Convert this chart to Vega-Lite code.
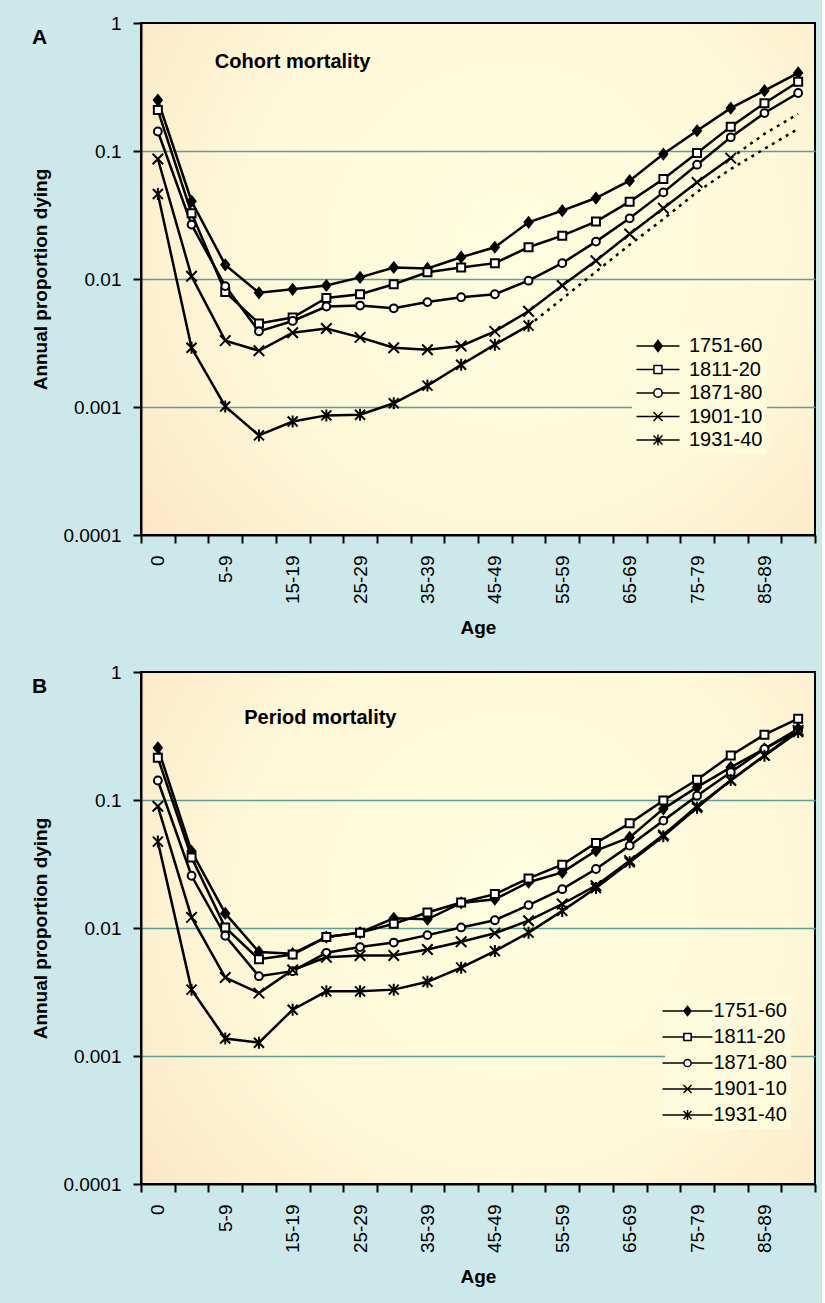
{
  "$schema": "https://vega.github.io/schema/vega-lite/v6.json",
  "background": "#cde8ea",
  "padding": {"left": 30, "top": 13, "right": 5, "bottom": 23},
  "spacing": 23,
  "config": {
    "font": "Liberation Sans",
    "view": {"stroke": "black", "strokeWidth": 2, "fill": {"gradient": "radial", "x1": 0.55, "y1": 0.45, "r1": 0, "x2": 0.55, "y2": 0.45, "r2": 0.75, "stops": [{"offset": 0, "color": "#fffde0"}, {"offset": 0.55, "color": "#fef8d8"}, {"offset": 1, "color": "#fbe3c4"}]}},
    "axis": {"domainColor": "black", "domainWidth": 2, "tickColor": "black", "tickWidth": 2, "tickSize": 8, "labelFontSize": 19, "labelColor": "black", "titleFontSize": 19, "titleFontWeight": "bold", "titleColor": "black"},
    "axisY": {"labelPadding": 12, "titlePadding": 12},
    "axisX": {"grid": false, "labelPadding": 12, "titlePadding": 15},
    "title": {"anchor": "start", "frame": "bounds", "fontSize": 21, "fontWeight": "bold", "color": "black", "baseline": "top", "offset": -34},
    "legend": {"orient": "none", "title": null, "padding": 4, "fillColor": "#fefbdc", "labelFontSize": 20, "labelColor": "black", "symbolSize": 400}
  },
  "datasets": {
    "cohort": [
      {"group": "1751-60", "age": "0", "rate": 0.25}, {"group": "1751-60", "age": "1-4", "rate": 0.0405}, {"group": "1751-60", "age": "5-9", "rate": 0.0129}, {"group": "1751-60", "age": "10-14", "rate": 0.0078}, {"group": "1751-60", "age": "15-19", "rate": 0.0083}, {"group": "1751-60", "age": "20-24", "rate": 0.0089}, {"group": "1751-60", "age": "25-29", "rate": 0.0103}, {"group": "1751-60", "age": "30-34", "rate": 0.0123}, {"group": "1751-60", "age": "35-39", "rate": 0.0121}, {"group": "1751-60", "age": "40-44", "rate": 0.0148}, {"group": "1751-60", "age": "45-49", "rate": 0.0177}, {"group": "1751-60", "age": "50-54", "rate": 0.0277}, {"group": "1751-60", "age": "55-59", "rate": 0.0342}, {"group": "1751-60", "age": "60-64", "rate": 0.0429}, {"group": "1751-60", "age": "65-69", "rate": 0.0586}, {"group": "1751-60", "age": "70-74", "rate": 0.0947}, {"group": "1751-60", "age": "75-79", "rate": 0.144}, {"group": "1751-60", "age": "80-84", "rate": 0.216}, {"group": "1751-60", "age": "85-89", "rate": 0.296}, {"group": "1751-60", "age": "90-94", "rate": 0.407},
      {"group": "1811-20", "age": "0", "rate": 0.209}, {"group": "1811-20", "age": "1-4", "rate": 0.0326}, {"group": "1811-20", "age": "5-9", "rate": 0.0079}, {"group": "1811-20", "age": "10-14", "rate": 0.0045}, {"group": "1811-20", "age": "15-19", "rate": 0.005}, {"group": "1811-20", "age": "20-24", "rate": 0.0071}, {"group": "1811-20", "age": "25-29", "rate": 0.0076}, {"group": "1811-20", "age": "30-34", "rate": 0.0091}, {"group": "1811-20", "age": "35-39", "rate": 0.0113}, {"group": "1811-20", "age": "40-44", "rate": 0.0123}, {"group": "1811-20", "age": "45-49", "rate": 0.0133}, {"group": "1811-20", "age": "50-54", "rate": 0.0177}, {"group": "1811-20", "age": "55-59", "rate": 0.0218}, {"group": "1811-20", "age": "60-64", "rate": 0.0281}, {"group": "1811-20", "age": "65-69", "rate": 0.0402}, {"group": "1811-20", "age": "70-74", "rate": 0.0604}, {"group": "1811-20", "age": "75-79", "rate": 0.0965}, {"group": "1811-20", "age": "80-84", "rate": 0.155}, {"group": "1811-20", "age": "85-89", "rate": 0.236}, {"group": "1811-20", "age": "90-94", "rate": 0.348},
      {"group": "1871-80", "age": "0", "rate": 0.142}, {"group": "1871-80", "age": "1-4", "rate": 0.0266}, {"group": "1871-80", "age": "5-9", "rate": 0.0088}, {"group": "1871-80", "age": "10-14", "rate": 0.0039}, {"group": "1871-80", "age": "15-19", "rate": 0.0047}, {"group": "1871-80", "age": "20-24", "rate": 0.0061}, {"group": "1871-80", "age": "25-29", "rate": 0.0062}, {"group": "1871-80", "age": "30-34", "rate": 0.0059}, {"group": "1871-80", "age": "35-39", "rate": 0.0066}, {"group": "1871-80", "age": "40-44", "rate": 0.0072}, {"group": "1871-80", "age": "45-49", "rate": 0.0076}, {"group": "1871-80", "age": "50-54", "rate": 0.0097}, {"group": "1871-80", "age": "55-59", "rate": 0.0133}, {"group": "1871-80", "age": "60-64", "rate": 0.0196}, {"group": "1871-80", "age": "65-69", "rate": 0.0298}, {"group": "1871-80", "age": "70-74", "rate": 0.0475}, {"group": "1871-80", "age": "75-79", "rate": 0.0782}, {"group": "1871-80", "age": "80-84", "rate": 0.128}, {"group": "1871-80", "age": "85-89", "rate": 0.198}, {"group": "1871-80", "age": "90-94", "rate": 0.284},
      {"group": "1901-10", "age": "0", "rate": 0.0866}, {"group": "1901-10", "age": "1-4", "rate": 0.0105}, {"group": "1901-10", "age": "5-9", "rate": 0.0033}, {"group": "1901-10", "age": "10-14", "rate": 0.00275}, {"group": "1901-10", "age": "15-19", "rate": 0.0038}, {"group": "1901-10", "age": "20-24", "rate": 0.0041}, {"group": "1901-10", "age": "25-29", "rate": 0.0035}, {"group": "1901-10", "age": "30-34", "rate": 0.0029}, {"group": "1901-10", "age": "35-39", "rate": 0.0028}, {"group": "1901-10", "age": "40-44", "rate": 0.003}, {"group": "1901-10", "age": "45-49", "rate": 0.0039}, {"group": "1901-10", "age": "50-54", "rate": 0.0056}, {"group": "1901-10", "age": "55-59", "rate": 0.0089}, {"group": "1901-10", "age": "60-64", "rate": 0.0139}, {"group": "1901-10", "age": "65-69", "rate": 0.0225}, {"group": "1901-10", "age": "70-74", "rate": 0.0357}, {"group": "1901-10", "age": "75-79", "rate": 0.0569}, {"group": "1901-10", "age": "80-84", "rate": 0.088},
      {"group": "1931-40", "age": "0", "rate": 0.0461}, {"group": "1931-40", "age": "1-4", "rate": 0.0029}, {"group": "1931-40", "age": "5-9", "rate": 0.00101}, {"group": "1931-40", "age": "10-14", "rate": 0.0006}, {"group": "1931-40", "age": "15-19", "rate": 0.00077}, {"group": "1931-40", "age": "20-24", "rate": 0.00086}, {"group": "1931-40", "age": "25-29", "rate": 0.00087}, {"group": "1931-40", "age": "30-34", "rate": 0.00107}, {"group": "1931-40", "age": "35-39", "rate": 0.00147}, {"group": "1931-40", "age": "40-44", "rate": 0.00214}, {"group": "1931-40", "age": "45-49", "rate": 0.00307}, {"group": "1931-40", "age": "50-54", "rate": 0.00432}
    ],
    "cohortProj": [
      {"group": "1901-10", "age": "80-84", "rate": 0.088}, {"group": "1901-10", "age": "85-89", "rate": 0.136}, {"group": "1901-10", "age": "90-94", "rate": 0.195},
      {"group": "1931-40", "age": "50-54", "rate": 0.00432}, {"group": "1931-40", "age": "55-59", "rate": 0.007}, {"group": "1931-40", "age": "60-64", "rate": 0.0114}, {"group": "1931-40", "age": "65-69", "rate": 0.0185}, {"group": "1931-40", "age": "70-74", "rate": 0.0294}, {"group": "1931-40", "age": "75-79", "rate": 0.0478}, {"group": "1931-40", "age": "80-84", "rate": 0.0723}, {"group": "1931-40", "age": "85-89", "rate": 0.104}, {"group": "1931-40", "age": "90-94", "rate": 0.149}
    ],
    "period": [
      {"group": "1751-60", "age": "0", "rate": 0.256}, {"group": "1751-60", "age": "1-4", "rate": 0.0397}, {"group": "1751-60", "age": "5-9", "rate": 0.013}, {"group": "1751-60", "age": "10-14", "rate": 0.0065}, {"group": "1751-60", "age": "15-19", "rate": 0.0063}, {"group": "1751-60", "age": "20-24", "rate": 0.0085}, {"group": "1751-60", "age": "25-29", "rate": 0.0092}, {"group": "1751-60", "age": "30-34", "rate": 0.0119}, {"group": "1751-60", "age": "35-39", "rate": 0.0117}, {"group": "1751-60", "age": "40-44", "rate": 0.0157}, {"group": "1751-60", "age": "45-49", "rate": 0.0168}, {"group": "1751-60", "age": "50-54", "rate": 0.0228}, {"group": "1751-60", "age": "55-59", "rate": 0.0272}, {"group": "1751-60", "age": "60-64", "rate": 0.0402}, {"group": "1751-60", "age": "65-69", "rate": 0.051}, {"group": "1751-60", "age": "70-74", "rate": 0.0853}, {"group": "1751-60", "age": "75-79", "rate": 0.126}, {"group": "1751-60", "age": "80-84", "rate": 0.18}, {"group": "1751-60", "age": "85-89", "rate": 0.251}, {"group": "1751-60", "age": "90-94", "rate": 0.36},
      {"group": "1811-20", "age": "0", "rate": 0.214}, {"group": "1811-20", "age": "1-4", "rate": 0.0356}, {"group": "1811-20", "age": "5-9", "rate": 0.0101}, {"group": "1811-20", "age": "10-14", "rate": 0.0057}, {"group": "1811-20", "age": "15-19", "rate": 0.0062}, {"group": "1811-20", "age": "20-24", "rate": 0.0085}, {"group": "1811-20", "age": "25-29", "rate": 0.0092}, {"group": "1811-20", "age": "30-34", "rate": 0.0108}, {"group": "1811-20", "age": "35-39", "rate": 0.0132}, {"group": "1811-20", "age": "40-44", "rate": 0.0158}, {"group": "1811-20", "age": "45-49", "rate": 0.0184}, {"group": "1811-20", "age": "50-54", "rate": 0.0244}, {"group": "1811-20", "age": "55-59", "rate": 0.0312}, {"group": "1811-20", "age": "60-64", "rate": 0.0462}, {"group": "1811-20", "age": "65-69", "rate": 0.0657}, {"group": "1811-20", "age": "70-74", "rate": 0.099}, {"group": "1811-20", "age": "75-79", "rate": 0.144}, {"group": "1811-20", "age": "80-84", "rate": 0.223}, {"group": "1811-20", "age": "85-89", "rate": 0.324}, {"group": "1811-20", "age": "90-94", "rate": 0.432},
      {"group": "1871-80", "age": "0", "rate": 0.142}, {"group": "1871-80", "age": "1-4", "rate": 0.0256}, {"group": "1871-80", "age": "5-9", "rate": 0.0087}, {"group": "1871-80", "age": "10-14", "rate": 0.0042}, {"group": "1871-80", "age": "15-19", "rate": 0.0046}, {"group": "1871-80", "age": "20-24", "rate": 0.0064}, {"group": "1871-80", "age": "25-29", "rate": 0.0071}, {"group": "1871-80", "age": "30-34", "rate": 0.0077}, {"group": "1871-80", "age": "35-39", "rate": 0.0088}, {"group": "1871-80", "age": "40-44", "rate": 0.0101}, {"group": "1871-80", "age": "45-49", "rate": 0.0115}, {"group": "1871-80", "age": "50-54", "rate": 0.0151}, {"group": "1871-80", "age": "55-59", "rate": 0.0201}, {"group": "1871-80", "age": "60-64", "rate": 0.0289}, {"group": "1871-80", "age": "65-69", "rate": 0.044}, {"group": "1871-80", "age": "70-74", "rate": 0.069}, {"group": "1871-80", "age": "75-79", "rate": 0.108}, {"group": "1871-80", "age": "80-84", "rate": 0.165}, {"group": "1871-80", "age": "85-89", "rate": 0.251}, {"group": "1871-80", "age": "90-94", "rate": 0.35},
      {"group": "1901-10", "age": "0", "rate": 0.0893}, {"group": "1901-10", "age": "1-4", "rate": 0.0121}, {"group": "1901-10", "age": "5-9", "rate": 0.0041}, {"group": "1901-10", "age": "10-14", "rate": 0.0031}, {"group": "1901-10", "age": "15-19", "rate": 0.0047}, {"group": "1901-10", "age": "20-24", "rate": 0.0059}, {"group": "1901-10", "age": "25-29", "rate": 0.0061}, {"group": "1901-10", "age": "30-34", "rate": 0.0061}, {"group": "1901-10", "age": "35-39", "rate": 0.0068}, {"group": "1901-10", "age": "40-44", "rate": 0.0078}, {"group": "1901-10", "age": "45-49", "rate": 0.0091}, {"group": "1901-10", "age": "50-54", "rate": 0.0114}, {"group": "1901-10", "age": "55-59", "rate": 0.0154}, {"group": "1901-10", "age": "60-64", "rate": 0.0214}, {"group": "1901-10", "age": "65-69", "rate": 0.0336}, {"group": "1901-10", "age": "70-74", "rate": 0.0533}, {"group": "1901-10", "age": "75-79", "rate": 0.0893}, {"group": "1901-10", "age": "80-84", "rate": 0.142}, {"group": "1901-10", "age": "85-89", "rate": 0.223}, {"group": "1901-10", "age": "90-94", "rate": 0.35},
      {"group": "1931-40", "age": "0", "rate": 0.0473}, {"group": "1931-40", "age": "1-4", "rate": 0.0033}, {"group": "1931-40", "age": "5-9", "rate": 0.00137}, {"group": "1931-40", "age": "10-14", "rate": 0.00127}, {"group": "1931-40", "age": "15-19", "rate": 0.0023}, {"group": "1931-40", "age": "20-24", "rate": 0.0032}, {"group": "1931-40", "age": "25-29", "rate": 0.0032}, {"group": "1931-40", "age": "30-34", "rate": 0.0033}, {"group": "1931-40", "age": "35-39", "rate": 0.0038}, {"group": "1931-40", "age": "40-44", "rate": 0.0049}, {"group": "1931-40", "age": "45-49", "rate": 0.0066}, {"group": "1931-40", "age": "50-54", "rate": 0.0092}, {"group": "1931-40", "age": "55-59", "rate": 0.0136}, {"group": "1931-40", "age": "60-64", "rate": 0.0205}, {"group": "1931-40", "age": "65-69", "rate": 0.0326}, {"group": "1931-40", "age": "70-74", "rate": 0.052}, {"group": "1931-40", "age": "75-79", "rate": 0.087}, {"group": "1931-40", "age": "80-84", "rate": 0.143}, {"group": "1931-40", "age": "85-89", "rate": 0.222}, {"group": "1931-40", "age": "90-94", "rate": 0.34}
    ]
  },
  "vconcat": [
    {
      "width": 674, "height": 512,
      "title": {"text": "A"},
      "layer": [
        {
          "data": {"name": "cohort"},
          "mark": {"type": "line", "color": "black", "strokeWidth": 2.5},
          "encoding": {
            "x": {"field": "age", "type": "ordinal", "title": "Age", "scale": {"type": "band", "paddingInner": 0, "paddingOuter": 0, "domain": ["0","1-4","5-9","10-14","15-19","20-24","25-29","30-34","35-39","40-44","45-49","50-54","55-59","60-64","65-69","70-74","75-79","80-84","85-89","90-94"]}, "axis": {"tickBand": "extent", "labelAngle": 270, "labelExpr": "indexof(['0','5-9','15-19','25-29','35-39','45-49','55-59','65-69','75-79','85-89'], datum.value) >= 0 ? datum.label : ''"}},
            "y": {"field": "rate", "type": "quantitative", "title": "Annual proportion dying", "scale": {"type": "log", "domain": [0.0001, 1], "nice": false}, "axis": {"values": [0.0001, 0.001, 0.01, 0.1, 1], "format": "~g", "grid": true, "gridWidth": 1.5, "gridColor": {"condition": {"test": "datum.value >= 0.5 || datum.value <= 0.0002", "value": "transparent"}, "value": "#5e9e94"}}},
            "detail": {"field": "group"}
          }
        },
        {
          "data": {"name": "cohortProj"},
          "mark": {"type": "line", "color": "black", "strokeWidth": 2.5, "strokeDash": [3, 5]},
          "encoding": {
            "x": {"field": "age", "type": "ordinal"},
            "y": {"field": "rate", "type": "quantitative"},
            "detail": {"field": "group"}
          }
        },
        {
          "data": {"name": "cohort"},
          "mark": {"type": "point", "filled": true, "stroke": "black", "strokeWidth": 2, "size": 100, "opacity": 1},
          "encoding": {
            "x": {"field": "age", "type": "ordinal"},
            "y": {"field": "rate", "type": "quantitative"},
            "shape": {"field": "group", "type": "nominal", "legend": null, "scale": {"domain": ["1931-40","1901-10","1871-80","1811-20","1751-60"], "range": ["M-1,-1L1,1M-1,1L1,-1M0,-1.2V1.2", "M-1.05,-1.05L1.05,1.05M-1.05,1.05L1.05,-1.05", "M-0.78,0A0.78,0.78,0,1,1,0.78,0A0.78,0.78,0,1,1,-0.78,0Z", "M-0.8,-0.8H0.8V0.8H-0.8Z", "M0,-1L0.8,0L0,1L-0.8,0Z"]}},
            "fill": {"field": "group", "type": "nominal", "scale": {"domain": ["1751-60","1811-20","1871-80","1901-10","1931-40"], "range": ["black", "white", "white", "white", "white"]},
              "legend": {"legendX": 491, "legendY": 308, "symbolOffset": 11, "labelOffset": 20, "rowPadding": 2.5,
                "symbolType": {"expr": "datum.value === '1751-60' ? 'M-2.15,0H2.15M0,-0.55L0.42,0L0,0.55L-0.42,0Z' : datum.value === '1811-20' ? 'M-2.15,0H-0.4M0.4,0H2.15M-0.4,-0.4H0.4V0.4H-0.4Z' : datum.value === '1871-80' ? 'M-2.15,0H-0.42M0.42,0H2.15M-0.42,0A0.42,0.42,0,1,1,0.42,0A0.42,0.42,0,1,1,-0.42,0Z' : datum.value === '1901-10' ? 'M-2.15,0H2.15M-0.45,-0.45L0.45,0.45M-0.45,0.45L0.45,-0.45' : 'M-2.15,0H2.15M-0.45,-0.45L0.45,0.45M-0.45,0.45L0.45,-0.45M0,-0.55V0.55'"},
                "encode": {"symbols": {"stroke": {"value": "black"}, "strokeWidth": {"value": 2}}}}}
          }
        },
        {
          "data": {"values": [{"age": "15-19", "rate": 0.5, "label": "Cohort mortality"}]},
          "mark": {"type": "text", "fontWeight": "bold", "fontSize": 20, "color": "black"},
          "encoding": {
            "x": {"field": "age", "type": "ordinal"},
            "y": {"field": "rate", "type": "quantitative"},
            "text": {"field": "label"}
          }
        }
      ]
    },
    {
      "width": 674, "height": 512,
      "title": {"text": "B"},
      "layer": [
        {
          "data": {"name": "period"},
          "mark": {"type": "line", "color": "black", "strokeWidth": 2.5},
          "encoding": {
            "x": {"field": "age", "type": "ordinal", "title": "Age", "scale": {"type": "band", "paddingInner": 0, "paddingOuter": 0, "domain": ["0","1-4","5-9","10-14","15-19","20-24","25-29","30-34","35-39","40-44","45-49","50-54","55-59","60-64","65-69","70-74","75-79","80-84","85-89","90-94"]}, "axis": {"tickBand": "extent", "labelAngle": 270, "labelExpr": "indexof(['0','5-9','15-19','25-29','35-39','45-49','55-59','65-69','75-79','85-89'], datum.value) >= 0 ? datum.label : ''"}},
            "y": {"field": "rate", "type": "quantitative", "title": "Annual proportion dying", "scale": {"type": "log", "domain": [0.0001, 1], "nice": false}, "axis": {"values": [0.0001, 0.001, 0.01, 0.1, 1], "format": "~g", "grid": true, "gridWidth": 1.5, "gridColor": {"condition": {"test": "datum.value >= 0.5 || datum.value <= 0.0002", "value": "transparent"}, "value": "#5e9e94"}}},
            "detail": {"field": "group"}
          }
        },
        {
          "data": {"name": "period"},
          "mark": {"type": "point", "filled": true, "stroke": "black", "strokeWidth": 2, "size": 100, "opacity": 1},
          "encoding": {
            "x": {"field": "age", "type": "ordinal"},
            "y": {"field": "rate", "type": "quantitative"},
            "shape": {"field": "group", "type": "nominal", "legend": null, "scale": {"domain": ["1931-40","1901-10","1871-80","1811-20","1751-60"], "range": ["M-1,-1L1,1M-1,1L1,-1M0,-1.2V1.2", "M-1.05,-1.05L1.05,1.05M-1.05,1.05L1.05,-1.05", "M-0.78,0A0.78,0.78,0,1,1,0.78,0A0.78,0.78,0,1,1,-0.78,0Z", "M-0.8,-0.8H0.8V0.8H-0.8Z", "M0,-1L0.8,0L0,1L-0.8,0Z"]}},
            "fill": {"field": "group", "type": "nominal", "scale": {"domain": ["1751-60","1811-20","1871-80","1901-10","1931-40"], "range": ["black", "white", "white", "white", "white"]},
              "legend": {"legendX": 524, "legendY": 324, "symbolOffset": 7.5, "labelOffset": 15, "rowPadding": 5,
                "symbolType": {"expr": "datum.value === '1751-60' ? 'M-2.5,0H2.5M0,-0.45L0.36,0L0,0.45L-0.36,0Z' : datum.value === '1811-20' ? 'M-2.5,0H-0.36M0.36,0H2.5M-0.36,-0.36H0.36V0.36H-0.36Z' : datum.value === '1871-80' ? 'M-2.5,0H-0.36M0.36,0H2.5M-0.36,0A0.36,0.36,0,1,1,0.36,0A0.36,0.36,0,1,1,-0.36,0Z' : datum.value === '1901-10' ? 'M-2.5,0H2.5M-0.4,-0.4L0.4,0.4M-0.4,0.4L0.4,-0.4' : 'M-2.5,0H2.5M-0.4,-0.4L0.4,0.4M-0.4,0.4L0.4,-0.4M0,-0.5V0.5'"},
                "encode": {"symbols": {"stroke": {"value": "black"}, "strokeWidth": {"value": 2}}}}}
          }
        },
        {
          "data": {"values": [{"age": "20-24", "rate": 0.435, "label": "Period mortality"}]},
          "mark": {"type": "text", "fontWeight": "bold", "fontSize": 20, "color": "black", "dx": -6},
          "encoding": {
            "x": {"field": "age", "type": "ordinal"},
            "y": {"field": "rate", "type": "quantitative"},
            "text": {"field": "label"}
          }
        }
      ]
    }
  ],
  "resolve": {"scale": {"shape": "independent", "fill": "independent"}, "legend": {"shape": "independent", "fill": "independent"}}
}
